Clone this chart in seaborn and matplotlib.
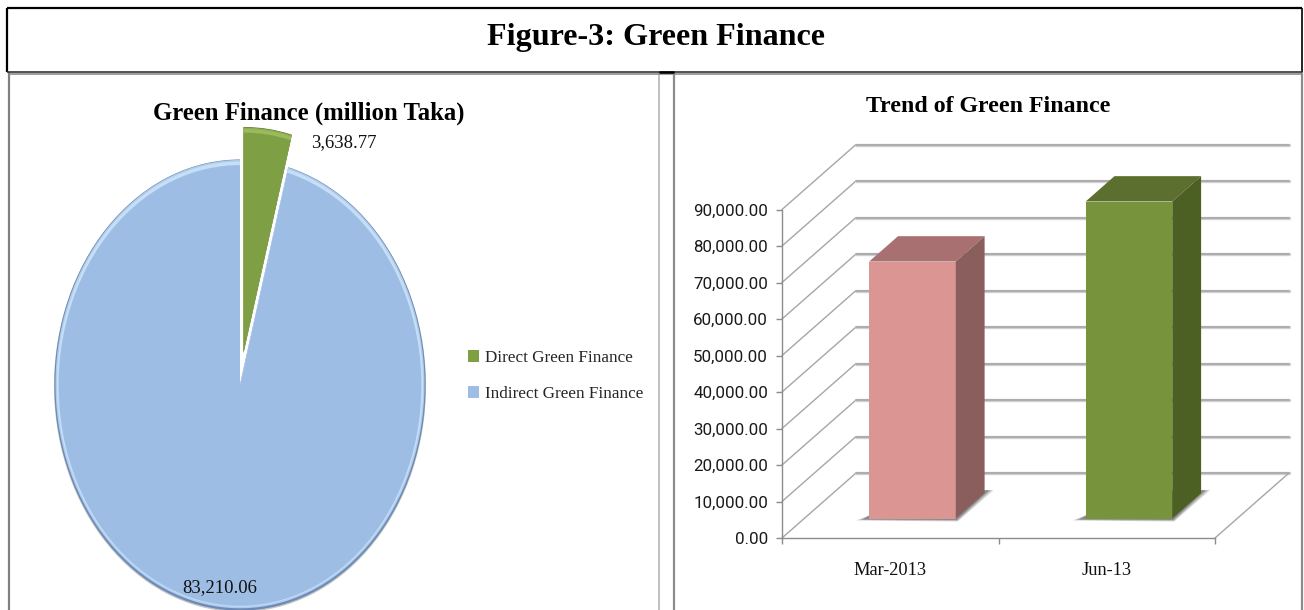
import matplotlib
matplotlib.use("Agg")
import matplotlib.pyplot as plt
from matplotlib.patches import Polygon
import seaborn as sns

# data
slice_names = ["Direct Green Finance", "Indirect Green Finance"]
slice_values = [3638.77, 83210.06]
periods = ["Mar-2013", "Jun-13"]
trend_values = [70400, 86848.83]
y_ticks = [0, 10000, 20000, 30000, 40000, 50000, 60000, 70000, 80000, 90000]

W, H = 1304, 610
SERIF = "Liberation Serif"
GRID = "#a6a6a6"

sns.set_theme(style="white")
plt.rcParams["font.family"] = [SERIF, "DejaVu Sans"]

fig = plt.figure(figsize=(W / 100, H / 100), dpi=100, facecolor="white")


def box(left, top, right, bottom):
    return [left / W, 1 - bottom / H, (right - left) / W, (bottom - top) / H]


# pie, squashed to an ellipse like the original
cx, cy, rx, ry = 240, 385, 186, 226
pie_ax = fig.add_axes(box(cx - 1.28 * rx, cy - 1.28 * ry, cx + 1.28 * rx, cy + 1.28 * ry))
explode = [0.145, 0]
# stacked slightly shifted pies give the bevel: dark rim below, light rim above
layers = [
    (1.0, (0, -0.004), ["#c4c4c4", "#c4c4c4"]),
    (0.998, (0, 0), ["#4f6b28", "#6b8ab5"]),
    (0.992, (0, 0.004), ["#8fae52", "#aecbec"]),
    (0.985, (0, 0.004), ["#9abb5c", "#c6def6"]),
    (0.975, (0, -0.002), ["#7f9f45", "#9dbde4"]),
]
for radius, center, colors in layers:
    wedges, _ = pie_ax.pie(slice_values, explode=explode, startangle=90, counterclock=False,
                           colors=colors, radius=radius, center=center,
                           wedgeprops={"linewidth": 0})
pie_ax.set_aspect("auto")
pie_ax.set_xlim(-1.28, 1.28)
pie_ax.set_ylim(-1.28, 1.28)

# bar chart, front plane of the fake 3d box
ax = fig.add_axes(box(782, 100, 1215, 538))
ax.patch.set_alpha(0)
DX = 74 / 216.5   # depth in x data units
DY = 65 / 36.5 * 10000   # depth in y data units
FRONT, BACK = 0.3, 0.69
PX, PY = 2 / 433, 120000 / 438   # one pixel in data units

sns.barplot(x=periods, y=trend_values, hue=periods, palette=["#db9694", "#77933c"],
            dodge=False, width=0.4, saturation=1, legend=False, ax=ax, zorder=5,
            linewidth=0, edgecolor="none")
ax.set_xlim(-0.5, 1.5)
ax.set_ylim(0, 120000)

# walls and floor
for t in y_ticks:
    ax.plot([-0.5, -0.5 + DX], [t, t + DY], color=GRID, lw=1, clip_on=False, zorder=1)
    ax.plot([-0.5 + DX, 1.5 + DX], [t + DY, t + DY], color="#d0d0d0", lw=2.4, clip_on=False, zorder=1)
    ax.plot([-0.5 + DX, 1.5 + DX], [t + DY, t + DY], color=GRID, lw=1.2, clip_on=False, zorder=1)
ax.plot([1.5, 1.5 + DX], [0, DY], color=GRID, lw=1, clip_on=False, zorder=1)

top_colors = ["#a87070", "#5c6f2f"]
side_colors = ["#8b5e5e", "#4c6024"]
bars = list(ax.patches)
for bar, c_top, c_side in zip(bars, top_colors, side_colors):
    bar.set_x(bar.get_x() + FRONT * DX)
    bar.set_y(FRONT * DY)
    x0, x1 = bar.get_x(), bar.get_x() + bar.get_width()
    y0, y1 = bar.get_y(), bar.get_y() + bar.get_height()
    d = BACK - FRONT
    # soft shadow on the floor
    for grow, alpha in [(1.0, 0.2), (0.75, 0.25), (0.5, 0.35)]:
        ax.add_patch(Polygon([(x0 - 13 * grow * PX, y0 - 2 * grow * PY),
                              (x1 + 2 * grow * PX, y0 - 3 * grow * PY),
                              (x1 + d * DX + 9 * grow * PX, y0 + d * DY + 3 * PY),
                              (x1, y0 + d * DY + 3 * PY),
                              (x0, y0 + 3 * PY)],
                             closed=True, fc="#404040", ec="none", alpha=alpha, zorder=3))
    ax.add_patch(Polygon([(x0, y1), (x1, y1), (x1 + d * DX, y1 + d * DY), (x0 + d * DX, y1 + d * DY)],
                         closed=True, fc=c_top, ec="none", zorder=5, clip_on=False))
    ax.add_patch(Polygon([(x1, y0), (x1, y1), (x1 + d * DX, y1 + d * DY), (x1 + d * DX, y0 + d * DY)],
                         closed=True, fc=c_side, ec="none", zorder=5, clip_on=False))

sns.despine(ax=ax, top=True, right=True)
ax.spines["left"].set_bounds(0, 90000)
ax.spines["bottom"].set_bounds(-0.5, 1.5)
for side in ["left", "bottom"]:
    ax.spines[side].set_color("#8c8c8c")
    ax.spines[side].set_linewidth(1)
ax.set_yticks(y_ticks)
ax.set_yticklabels([f"{t:,.2f}" for t in y_ticks], family="Roboto", fontsize=12.2, color="#1a1a1a")
ax.set_xticks([0, 1])
ax.set_xticklabels(periods, fontsize=13.2, color="#111111")
ax.set_xticks([-0.5, 0.5, 1.5], minor=True)
ax.tick_params(axis="y", left=True, length=4, width=1, color="#8c8c8c", pad=6)
ax.tick_params(axis="x", which="major", length=0, pad=17.5)
ax.tick_params(axis="x", which="minor", bottom=True, length=4, width=1, color="#8c8c8c")

# overlay in pixel coords for frames and titles
top = fig.add_axes([0, 0, 1, 1], zorder=10)
top.set_xlim(0, W)
top.set_ylim(H, 0)
top.axis("off")
top.patch.set_alpha(0)

for xs, ys, c, lw in [
    ([9, 9], [72, 610], "#808080", 1.6),
    ([659, 659], [72, 610], "#b5b5b5", 1.2),
    ([674, 674], [72, 610], "#8c8c8c", 1.6),
    ([1302, 1302], [72, 610], "#8c8c8c", 1.6),
    ([9, 1302], [73.5, 73.5], "#8c8c8c", 1.2),
    ([7, 1302], [8, 8], "black", 1.6),
    ([7, 7], [8, 72], "black", 1.6),
    ([1302, 1302], [8, 72], "black", 1.2),
    ([7, 1302], [72, 72], "#333333", 1.2),
    ([659, 674], [72, 72], "black", 1.8),
]:
    top.plot(xs, ys, color=c, lw=lw, solid_capstyle="butt")

top.text(656, 38, "Figure-3: Green Finance", ha="center", va="center",
         fontsize=23.1, fontweight="bold", color="black")
top.text(308.5, 113, "Green Finance (million Taka)", ha="center", va="center",
         fontsize=17.8, fontweight="bold", color="black")
top.text(988, 107, "Trend of Green Finance", ha="center", va="center",
         fontsize=17.2, fontweight="bold", color="black")
top.text(344, 143, f"{slice_values[0]:,.2f}", ha="center", va="center", fontsize=13.5, color="#111111")
top.text(220, 588, f"{slice_values[1]:,.2f}", ha="center", va="center", fontsize=13.5, color="#111111")

top.legend(wedges, slice_names, loc="center left", bbox_to_anchor=(453, 376),
           bbox_transform=top.transData, frameon=False, fontsize=12.3, labelspacing=1.15,
           handlelength=0.65, handleheight=0.65, handletextpad=0.3)

fig.savefig("out.png", dpi=100, facecolor="white")
